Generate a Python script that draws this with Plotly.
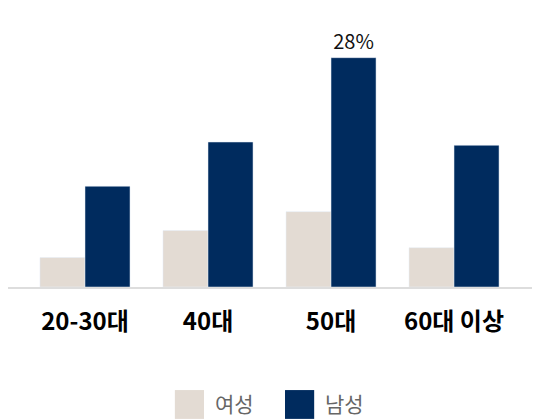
import plotly.graph_objects as go

categories = ["20-30대", "40대", "50대", "60대 이상"]
female = [3.6, 6.9, 9.2, 4.8]
male = [12.3, 17.7, 28.0, 17.3]
male_labels = ["", "", "28%", ""]

beige = "#e3dbd3"
navy = "#002b5e"
font = "Noto Sans CJK KR"

fig = go.Figure()

fig.add_trace(go.Bar(x=categories, y=female, name="여성", marker_color=beige, showlegend=False))
fig.add_trace(go.Bar(x=categories, y=male, name="남성", marker_color=navy, showlegend=False,
                     text=male_labels, textposition="outside", cliponaxis=False,
                     textfont=dict(size=20, color="#111111", family=font)))

# legend drawn by hand so the swatches can be big
for x0, col, label in [(0.309, beige, "여성"), (0.513, navy, "남성")]:
    fig.add_shape(type="rect", xref="paper", yref="paper",
                  x0=x0, x1=x0 + 0.054, y0=-0.386, y1=-0.494,
                  fillcolor=col, line_width=0)
    fig.add_annotation(xref="paper", yref="paper", x=x0 + 0.07, y=-0.436,
                       text=label, showarrow=False, xanchor="left", yanchor="middle",
                       font=dict(size=21, color="#666666", family=font))

# page has an 8px body margin, so everything is laid out 8px up/left
fig.update_layout(
    width=540, height=420,
    margin=dict(l=0, r=0, t=12, b=141),
    plot_bgcolor="white", paper_bgcolor="white",
    barmode="group", bargap=0.268, bargroupgap=0,
    font=dict(family=font),
)
fig.update_xaxes(range=[-0.626, 3.764], showline=True, linecolor="#dddddd", linewidth=2,
                 ticks="", ticklabelstandoff=12,
                 tickfont=dict(size=24, color="#000000", family=font, weight="bold"))
fig.update_yaxes(range=[0, 32.6], visible=False, showgrid=False)

fig.write_html("out.html")
